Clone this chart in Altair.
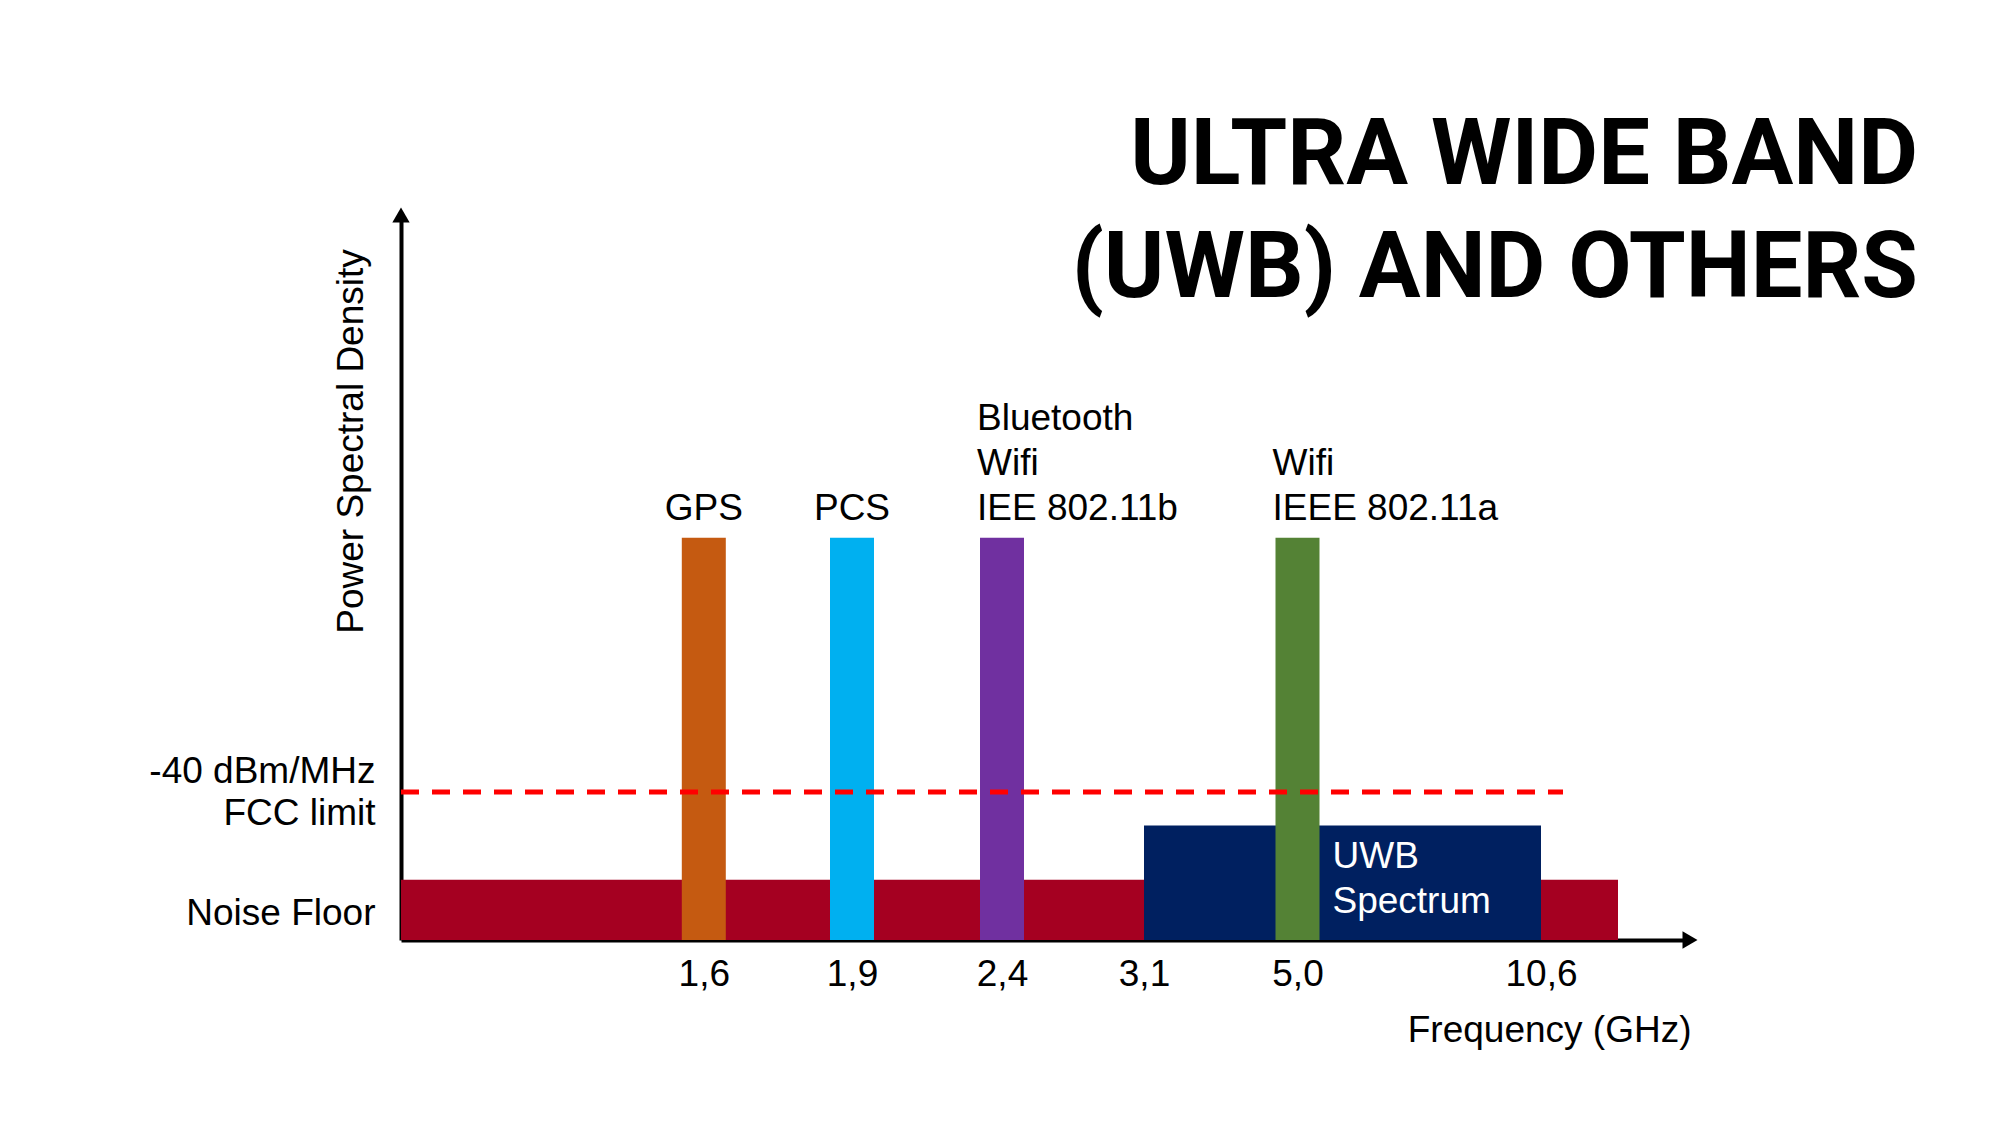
import altair as alt
import pandas as pd

# ---- data ----
band_names = ["GPS", "PCS", "Bluetooth", "Wifi a"]
band_freq = [1.6, 1.9, 2.4, 5.0]
band_level = [55.5, 55.5, 55.5, 55.5]
band_labels = ["GPS", "PCS", "Bluetooth\nWifi\nIEE 802.11b", "Wifi\nIEEE 802.11a"]
band_align = ["center", "center", "left", "left"]
band_colors = ["#C55A11", "#00B0F0", "#7030A0", "#548235"]

noise_from, noise_to, noise_level = 0.0, 12.0, 8.3
uwb_from, uwb_to, uwb_level = 3.1, 10.6, 15.8
uwb_label = "UWB\nSpectrum"
fcc_from, fcc_to, fcc_level = 0.0, 11.0, 20.4

tick_freqs = [1.6, 1.9, 2.4, 3.1, 5.0, 10.6]
x_domain = [0, 1.6, 1.9, 2.4, 3.1, 5.0, 10.6, 12, 13]
x_range = [0, 302.8, 451, 601, 743, 896.5, 1140, 1217, 1289]
y_max = 100
y_label_values = [3.7, 17.45, 23.2]
y_label_texts = ["Noise Floor", "FCC limit", "-40 dBm/MHz"]

FONT = "Liberation Sans"
FS = 37
LH = 45

W, H = 1289, 725

xs = alt.Scale(domain=x_domain, range=x_range, nice=False, zero=False, padding=0)
ys = alt.Scale(domain=[0, y_max], nice=False, zero=False, padding=0)

y_label_expr = " : ".join(
    f"datum.value == {v} ? '{t}'" for v, t in zip(y_label_values, y_label_texts)
) + " : ''"

x_axis = alt.Axis(
    values=tick_freqs,
    labelExpr="replace(format(datum.value, '.1f'), '.', ',')",
    title="Frequency (GHz)",
    grid=False, ticks=False, tickSize=0,
    domainWidth=4, domainColor="black",
    labelFont=FONT, labelFontSize=FS, labelColor="black", labelPadding=16,
    labelOverlap=False, labelFlush=False, labelLimit=0,
    titleFont=FONT, titleFontSize=FS, titleFontWeight="normal", titleColor="black",
    titleX=1290, titleY=90, titleAlign="right", titleBaseline="middle",
)
y_axis = alt.Axis(
    values=y_label_values,
    labelExpr=y_label_expr,
    title="Power Spectral Density",
    grid=False, ticks=False, tickSize=0,
    domainWidth=4, domainColor="black",
    labelFont=FONT, labelFontSize=FS, labelColor="black", labelPadding=26,
    labelOverlap=False, labelFlush=False, labelLimit=0,
    titleFont=FONT, titleFontSize=FS, titleFontWeight="normal", titleColor="black",
    titleX=-50, titleY=226, titleAlign="center", titleBaseline="middle", titleAngle=270,
)

noise_df = pd.DataFrame({"x": [noise_from], "x2": [noise_to], "y": [0], "y2": [noise_level]})
uwb_df = pd.DataFrame({"x": [uwb_from], "x2": [uwb_to], "y": [0], "y2": [uwb_level]})
bands_df = pd.DataFrame({"name": band_names, "x": band_freq, "y": [0] * 4, "y2": band_level})
fcc_df = pd.DataFrame({"x": [fcc_from], "x2": [fcc_to], "y": [fcc_level]})
uwb_text_df = pd.DataFrame({"x": [5.0], "y": [uwb_level], "label": [uwb_label]})
arrows_df = pd.DataFrame({"x": [0, 13], "y": [y_max, 0], "shape": ["triangle-up", "triangle-right"]})

# one row per label line, k = line index counted from the bottom
rows = []
for f, lvl, lab, al in zip(band_freq, band_level, band_labels, band_align):
    lines = lab.split("\n")
    for k, line in enumerate(reversed(lines)):
        rows.append({"x": f, "y": lvl, "text": line, "k": k, "align": al})
lines_df = pd.DataFrame(rows)

base_axes = alt.Chart(noise_df).mark_rect(color="#A50021").encode(
    x=alt.X("x:Q", scale=xs, axis=x_axis),
    x2="x2:Q",
    y=alt.Y("y:Q", scale=ys, axis=y_axis),
    y2="y2:Q",
)

uwb = alt.Chart(uwb_df).mark_rect(color="#002060").encode(
    x=alt.X("x:Q", scale=xs), x2="x2:Q",
    y=alt.Y("y:Q", scale=ys), y2="y2:Q",
)

bars = alt.Chart(bands_df).mark_bar(size=44).encode(
    x=alt.X("x:Q", scale=xs),
    y=alt.Y("y:Q", scale=ys), y2="y2:Q",
    color=alt.Color("name:N", scale=alt.Scale(domain=band_names, range=band_colors), legend=None),
)

fcc = alt.Chart(fcc_df).mark_rule(color="#FF0000", strokeWidth=5, strokeDash=[18, 13]).encode(
    x=alt.X("x:Q", scale=xs), x2="x2:Q",
    y=alt.Y("y:Q", scale=ys),
)

text_layers = []
for al in ["center", "left"]:
    for k in range(3):
        sub = lines_df[(lines_df["align"] == al) & (lines_df["k"] == k)]
        if sub.empty:
            continue
        text_layers.append(
            alt.Chart(sub).mark_text(
                font=FONT, fontSize=FS, color="black", align=al, baseline="bottom",
                dy=-10 - LH * k, dx=(0 if al == "center" else -25),
            ).encode(x=alt.X("x:Q", scale=xs), y=alt.Y("y:Q", scale=ys), text="text:N")
        )

uwb_text = alt.Chart(uwb_text_df).mark_text(
    font=FONT, fontSize=FS, color="white", align="left", baseline="top",
    lineBreak="\n", lineHeight=LH, dx=35, dy=14,
).encode(x=alt.X("x:Q", scale=xs), y=alt.Y("y:Q", scale=ys), text="label:N")

arrows = alt.Chart(arrows_df).mark_point(filled=True, color="black", size=300, opacity=1).encode(
    x=alt.X("x:Q", scale=xs), y=alt.Y("y:Q", scale=ys),
    shape=alt.Shape("shape:N", scale=None, legend=None),
)

chart = alt.layer(base_axes, uwb, bars, fcc, *text_layers, uwb_text, arrows).properties(
    width=W, height=H,
    title=alt.TitleParams(
        text=["ULTRA WIDE BAND", "(UWB) AND OTHERS"],
        anchor="end", frame="group", align="right",
        font="Roboto", fontSize=92, fontWeight="bold", color="black",
        lineHeight=113, dx=228, dy=112,
    ),
    autosize=alt.AutoSizeParams(type="none"),
    padding={"left": 393, "top": 207, "right": 300, "bottom": 170},
).configure(background="white").configure_view(stroke=None)

chart.save("out.html", embed_options={"renderer": "svg", "actions": False})
